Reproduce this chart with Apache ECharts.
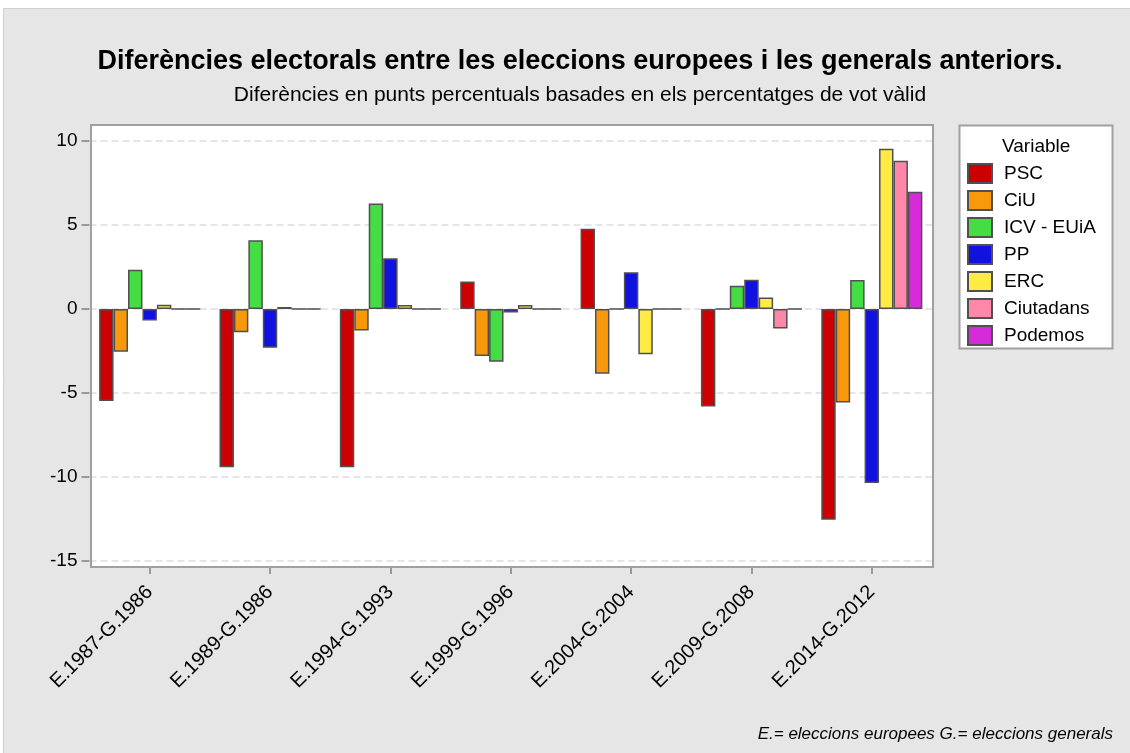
<!DOCTYPE html>
<html>
<head>
<meta charset="utf-8">
<script src="https://cdn.jsdelivr.net/npm/echarts@6/dist/echarts.min.js"></script>
<style>html,body{margin:0;padding:0;background:#fff;}#c{width:1130px;height:753px;}</style>
</head>
<body>
<div id="c"></div>
<script>
const categories = ['E.1987-G.1986','E.1989-G.1986','E.1994-G.1993','E.1999-G.1996','E.2004-G.2004','E.2009-G.2008','E.2014-G.2012'];
const seriesNames = ['PSC','CiU','ICV - EUiA','PP','ERC','Ciutadans','Podemos'];
const PSC       = [-5.47, -9.42, -9.42,  1.64,  4.77, -5.81, -12.54];
const CiU       = [-2.55, -1.38, -1.28, -2.80, -3.85,  0,     -5.57];
const ICV       = [ 2.34,  4.09,  6.28, -3.14,  0,     1.39,   1.72];
const PP        = [-0.69, -2.31,  3.02, -0.21,  2.19,  1.74, -10.35];
const ERC       = [ 0.26,  0.12,  0.24,  0.24, -2.69,  0.69,   9.54];
const Ciutadans = [ 0,     0,     0,     0,     0,    -1.16,   8.83];
const Podemos   = [ 0,     0,     0,     0,     0,     0,      6.98];
const yTicks = [-15, -10, -5, 0, 5, 10];
const colors = ['#CC0000','#F7990A','#44DD44','#1111E0','#FFEB44','#FF88AA','#D62BD9'];
const values = [PSC, CiU, ICV, PP, ERC, Ciutadans, Podemos];

const chart = echarts.init(document.getElementById('c'));
const font = '"Liberation Sans", Arial, sans-serif';
chart.setOption({
  animation: false,
  textStyle: {fontFamily: font},
  graphic: [
    {type:'rect', z:-10, silent:true, shape:{x:3.5,y:8.5,width:1130,height:750}, style:{fill:'#E6E6E6', stroke:'#CFCFCF', lineWidth:1}},
    {type:'rect', z:-9, silent:true, shape:{x:91,y:125,width:842,height:442}, style:{fill:'#FFFFFF'}},
    {type:'rect', z:50, silent:true, shape:{x:91,y:125,width:842,height:442}, style:{fill:null, stroke:'#A0A0A0', lineWidth:2}},
    {type:'rect', z:-9, silent:true, shape:{x:959.5,y:125.5,width:153,height:223}, style:{fill:'#FFFFFF', stroke:'#A0A0A0', lineWidth:2}},
    {type:'text', silent:true, left:1002, top:137, style:{text:'Variable', fontSize:19, fill:'#000', fontFamily:font}},
    {type:'text', silent:true, right:17, top:726, style:{text:'E.= eleccions europees G.= eleccions generals', fontSize:17, fontStyle:'italic', fill:'#000', fontFamily:font}}
  ],
  title: {
    text: 'Diferències electorals entre les eleccions europees i les generals anteriors.',
    subtext: 'Diferències en punts percentuals basades en els percentatges de vot vàlid',
    left: 575, textAlign: 'center', top: 43, itemGap: 10,
    textStyle: {fontSize: 27, fontWeight: 'bold', color: '#000', fontFamily: font},
    subtextStyle: {fontSize: 21, color: '#000', fontFamily: font}
  },
  legend: {
    orient: 'vertical', left: 962, top: 158,
    itemWidth: 24, itemHeight: 19, itemGap: 6,
    icon: 'rect',
    data: seriesNames,
    textStyle: {fontSize: 19, color: '#000', fontFamily: font, padding: [0,0,0,7]}
  },
  grid: {left: 89.5, right: 198, top: 141, bottom: 192},
  xAxis: {
    type: 'category', data: categories, offset: 6,
    axisLine: {show: false, onZero: false},
    axisTick: {show: true, alignWithLabel: true, length: 7, lineStyle: {color: '#999', width: 2}},
    axisLabel: {rotate: 45, fontSize: 20, color: '#000', margin: 22, interval: 0, fontFamily: font},
    splitLine: {show: false}
  },
  yAxis: {
    type: 'value', min: yTicks[0], max: yTicks[yTicks.length-1], interval: 5,
    axisLine: {show: false},
    axisTick: {show: true, length: 8, lineStyle: {color: '#999', width: 2}},
    axisLabel: {fontSize: 19, color: '#000', margin: 12, fontFamily: font},
    splitLine: {show: true, lineStyle: {color: '#DDDDDD', width: 1.5, type: [7, 4]}}
  },
  series: seriesNames.map((n, i) => ({
    name: n, type: 'bar', data: values[i],
    barGap: '0%', barCategoryGap: '16%',
    itemStyle: {color: colors[i], borderColor: '#505050', borderWidth: 1.5}
  }))
});
</script>
</body>
</html>
